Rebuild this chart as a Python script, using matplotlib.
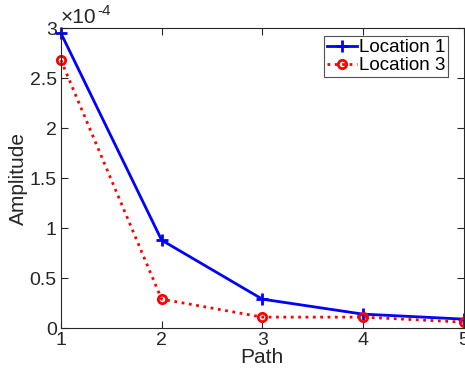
import matplotlib
matplotlib.use('Agg')
import matplotlib.pyplot as plt
import numpy as np

plt.rcParams['font.family'] = ['Liberation Sans', 'DejaVu Sans']

path = [1, 2, 3, 4, 5]
loc1 = [2.95e-4, 0.88e-4, 0.29e-4, 0.14e-4, 0.09e-4]
loc3 = [2.68e-4, 0.29e-4, 0.11e-4, 0.11e-4, 0.06e-4]

fig = plt.figure(figsize=(4.65, 3.75), dpi=100)
ax = fig.add_axes([0.131, 0.125, 0.866, 0.8])

ax.plot(path, loc1, color='blue', linestyle='-', linewidth=2, marker='+',
        markersize=9, markeredgewidth=2, label='Location 1', clip_on=False)
ax.plot(path, loc3, color='red', linestyle=':', linewidth=2, marker='o',
        markersize=6, markeredgewidth=2, markerfacecolor='none',
        label='Location 3', clip_on=False)

ax.set_xlim(1, 5)
ax.set_ylim(0, 3e-4)
ax.set_xticks(path)
ax.set_yticks(np.arange(0, 3.01e-4, 0.5e-4))
ax.set_yticklabels(['0', '0.5', '1', '1.5', '2', '2.5', '3'])

axcol = '#262626'
for sp in ax.spines.values():
    sp.set_color(axcol)
    sp.set_linewidth(0.8)
ax.tick_params(direction='in', top=True, right=True, colors=axcol,
               labelsize=14, length=5, pad=3)
for lab in ax.get_xticklabels() + ax.get_yticklabels():
    lab.set_color(axcol)

ax.set_xlabel('Path', fontsize=15, color=axcol, labelpad=-1)
ax.set_ylabel('Amplitude', fontsize=15, color=axcol, labelpad=1)

# exponent label, MATLAB style (plain hyphen)
ax.text(0.0, 1.005, '×10', transform=ax.transAxes,
        fontsize=15, color=axcol, ha='left', va='bottom')
ax.text(0.09, 1.035, '-4', transform=ax.transAxes,
        fontsize=11, color=axcol, ha='left', va='bottom')

leg = ax.legend(loc='upper right', bbox_to_anchor=(0.97, 0.985), fontsize=13.5,
                frameon=True, fancybox=False, handlelength=1.6,
                handletextpad=0.1, borderpad=0.15, labelspacing=0.05,
                borderaxespad=0.2)
leg.get_frame().set_edgecolor(axcol)
leg.get_frame().set_linewidth(0.8)

fig.savefig('out.png', dpi=100)
